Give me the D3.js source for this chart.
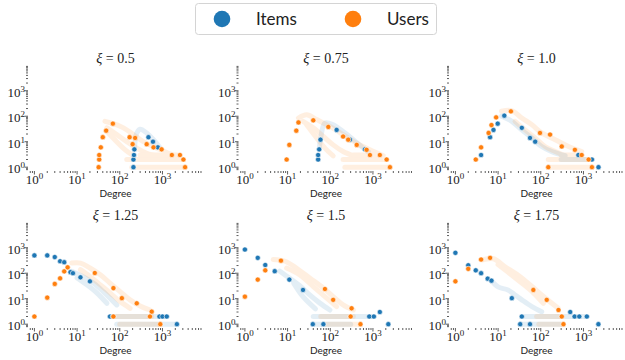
<!DOCTYPE html>
<html>
<head>
<meta charset="utf-8">
<script src="https://cdn.jsdelivr.net/npm/d3@7"></script>
<style>
body { margin: 0; background: #fff; }
</style>
</head>
<body>
<div id="chart"></div>
<script>
// panel titles (xi values)
var xiLabels = ["0.5", "0.75", "1.0", "1.25", "1.5", "1.75"];
var seriesNames = ["Items", "Users"];
var seriesColors = ["#1f77b4", "#ff7f0e"];
var majorTicks = [1, 10, 100, 1000];

// clearly visible [degree, count] points, one list per panel
var itemPoints = [
    [[209,1],[209,2],[215,3],[220,5],[470,15],[600,10],[780,6]],
    [[52,2],[52,3],[55,5],[59,12],[141,29],[288,12],[650,5]],
    [[4,3],[6.5,15],[7.8,29],[9.8,51],[14,105],[36,35],[56,14],[74,10],[760,3],[1580,2],[2250,1]],
    [[1,500],[2,500],[3,430],[4,295],[5,270],[7,110],[8,100],[12,69],[20,48],[59,2],[69,2],[850,2],[1000,2],[1260,2],[2180,1]],
    [[1,850],[2,400],[3,210],[5,120],[11,56],[23,22],[39,1],[69,1],[820,2],[1050,2],[1450,3],[2290,1]],
    [[1,630],[2,205],[3,130],[4,100],[5.7,61],[7,51],[21,10.5],[36,2],[33,1],[56,1],[490,3],[620,2],[800,2],[1200,2],[2240,1]]
];
var userPoints = [
    [[32,1],[33,2],[33,3],[36,6],[40,15],[48,27],[69,51],[170,15],[200,8],[229,14],[427,8],[617,6],[955,5],[1660,3],[2570,3],[3100,2],[3390,1]],
    [[9.5,2],[11,7.5],[16,27],[18,57],[40,69],[90,38],[200,16],[263,12],[417,7.5],[710,4.8],[850,3],[1450,3],[2090,2],[2500,1]],
    [[3,2],[4,6],[6,22],[7,45],[9,90],[20,155],[96,22],[165,19],[310,6.5],[630,4.8],[910,3],[1320,2],[150,1],[1580,1]],
    [[1,2],[2,11],[3,38],[4,63],[5,118],[6,170],[26,102],[71,26],[112,10.5],[250,6.6],[560,3.1],[71,2],[510,2],[890,1]],
    [[1,12],[2,56],[3,130],[7,310],[75,24],[117,9],[316,4.2],[300,2],[510,1]],
    [[1,48],[2,148],[4,345],[6.5,400],[67,22],[138,9],[260,3.6],[310,2],[340,1]]
];

// dense runs of overlapping points (drawn as pale trails), one list per panel
var itemTrails = [
    [[[220,4.8],[251,22],[300,31],[427,22],[617,12],[890,5.6]]],
    [[[55,5],[59,12],[75,54],[117,46],[200,25],[347,12],[590,5.6],[780,4]]],
    [[[12,100],[21,63],[36,29],[62,14],[105,6.5],[182,4.1],[372,2.8]], [[300,2],[1580,2]]],
    [[[7.5,118],[14,71],[24,41],[41,19],[59,10.5],[85,5.7]], [[10,65],[17,35],[29,17],[50,6.6]], [[59,2],[1260,2]], [[85,1],[2180,1]]],
    [[[6.6,120],[11,65],[19,33],[33,14],[57,6.7],[98,3.6]], [[14,40],[23,12],[45,4]], [[40,2],[1050,2]], [[39,1],[300,1]]],
    [[[7,51],[10,29],[17,22],[25,14],[36,9],[62,4.9],[105,3.1]], [[36,2],[1200,2]], [[33,1],[300,1]]]
];
var userTrails = [
    [[[45,63],[71,51],[122,35],[209,19],[357,10],[737,5.6],[1510,3.3],[2570,2.5]],
     [[50,35],[85,19],[146,10],[251,5.6],[427,3.5],[890,2.6]],
     [[54,22],[85,10],[134,4.8],[209,2.8]],
     [[146,2],[2830,2]], [[191,1],[3100,1]], [[300,3],[2180,3]]],
    [[[18,85],[28,115],[48,74],[98,40],[200,19],[417,8.7],[850,4.8],[1740,2.8]],
     [[23,63],[40,35],[69,16],[117,7.5],[200,4.1],[347,2.8]],
     [[28,46],[48,14],[75,5.6],[117,2.8]],
     [[200,2],[2090,2]], [[220,1],[2500,1]], [[347,3],[1450,3]]],
    [[[12,158],[21,166],[36,85],[62,46],[105,22],[218,12],[447,6.5],[910,4.1]],
     [[25,63],[43,29],[74,14],[126,6.5],[218,4.1],[372,2.8]],
     [[150,1],[1580,1]], [[150,2],[1320,2]], [[300,3],[910,3]]],
    [[[7.5,250],[12,250],[20,160],[35,87],[59,41],[102,19],[174,9],[300,5.2],[513,3.6]],
     [[12,138],[20,75],[35,35],[59,17],[102,7.7],[174,4.2]],
     [[71,2],[560,2]], [[100,1],[890,1]]],
    [[[4.6,345],[8.7,295],[16,160],[33,65],[69,26],[117,12],[200,5.7],[347,3.6]],
     [[9.5,160],[19,87],[40,30],[75,12],[141,4.9]],
     [[60,2],[347,2]], [[70,1],[510,1]]],
    [[[4.1,325],[7.8,370],[14,186],[30,81],[62,30],[105,14],[182,6.6],[257,4.2]],
     [[10,219],[19,96],[36,41],[67,17],[115,6.6]],
     [[80,2],[310,2]], [[90,1],[340,1]]]
];

var width = 625, height = 360;
var colLeft = [28, 238.5, 449], rowTop = [66, 223];
var axW = 175, axH = 105;

var svg = d3.select("#chart").append("svg")
    .attr("width", width)
    .attr("height", height);

var x = d3.scaleLog().domain([Math.pow(10, -0.15), Math.pow(10, 3.95)]).range([0, axW]);
var y = d3.scaleLog().domain([Math.pow(10, -0.15), Math.pow(10, 3.97)]).range([axH, 0]);

var trailLine = d3.line()
    .x(function(d) { return x(d[0]); })
    .y(function(d) { return y(d[1]); })
    .curve(d3.curveCatmullRom);

function isMajor(v) {
    return Math.abs(Math.log10(v) - Math.round(Math.log10(v))) < 1e-6;
}

function powLabel(sel, v) {
    sel.append("tspan").text("10");
    sel.append("tspan")
        .attr("dy", -5)
        .attr("font-size", 9)
        .text(Math.round(Math.log10(v)));
}

xiLabels.forEach(function(xi, i) {
    var g = svg.append("g")
        .attr("transform", "translate(" + colLeft[i % 3] + "," + rowTop[Math.floor(i / 3)] + ")");

    // title
    var t = g.append("text")
        .attr("x", axW / 2)
        .attr("y", -3)
        .attr("text-anchor", "middle")
        .attr("font-family", "'Liberation Serif', serif")
        .attr("font-size", 14)
        .attr("fill", "#222");
    t.append("tspan").attr("font-style", "italic").text("ξ");
    t.append("tspan").text(" = " + xi);

    // log ticks (no spines)
    var xt = x.ticks().filter(function(v) { return v >= x.domain()[0] && v <= x.domain()[1]; });
    g.selectAll(".xtick").data(xt).enter().append("line")
        .attr("x1", function(d) { return x(d); })
        .attr("x2", function(d) { return x(d); })
        .attr("y1", axH)
        .attr("y2", function(d) { return axH + (isMajor(d) ? 3.5 : 2); })
        .attr("stroke", "#333")
        .attr("stroke-width", 0.8);

    var yt = y.ticks().filter(function(v) { return v >= y.domain()[0] && v <= y.domain()[1]; });
    g.selectAll(".ytick").data(yt).enter().append("line")
        .attr("y1", function(d) { return y(d); })
        .attr("y2", function(d) { return y(d); })
        .attr("x1", 0)
        .attr("x2", function(d) { return isMajor(d) ? -3.5 : -2; })
        .attr("stroke", "#333")
        .attr("stroke-width", 0.8);

    majorTicks.forEach(function(v) {
        g.append("text")
            .attr("x", x(v))
            .attr("y", axH + 13)
            .attr("text-anchor", "middle")
            .attr("font-family", "'Liberation Serif', serif")
            .attr("font-size", 13)
            .attr("fill", "#222")
            .call(powLabel, v);
        g.append("text")
            .attr("x", -3)
            .attr("y", y(v) + 6)
            .attr("text-anchor", "end")
            .attr("font-family", "'Liberation Serif', serif")
            .attr("font-size", 13)
            .attr("fill", "#222")
            .call(powLabel, v);
    });

    g.append("text")
        .attr("x", axW / 2)
        .attr("y", axH + 26)
        .attr("text-anchor", "middle")
        .attr("font-family", "Lato, sans-serif")
        .attr("font-size", 10)
        .attr("fill", "#222")
        .text("Degree");

    // dense, overlapping runs (white marker edges wash them out)
    [itemTrails[i], userTrails[i]].forEach(function(trails, s) {
        g.append("g")
            .attr("opacity", 0.12)
            .selectAll("path").data(trails).enter().append("path")
            .attr("d", trailLine)
            .attr("fill", "none")
            .attr("stroke", seriesColors[s])
            .attr("stroke-width", 5)
            .attr("stroke-linecap", "round")
            .attr("stroke-linejoin", "round");
    });

    // points
    [itemPoints[i], userPoints[i]].forEach(function(pts, s) {
        g.append("g").selectAll("circle").data(pts).enter().append("circle")
            .attr("cx", function(d) { return x(d[0]); })
            .attr("cy", function(d) { return y(d[1]); })
            .attr("r", 2.6)
            .attr("fill", seriesColors[s])
            .attr("stroke", "#fff")
            .attr("stroke-width", 0.6);
    });
});

// legend
var legend = svg.append("g");
legend.append("rect")
    .attr("x", 195.5).attr("y", 3.5)
    .attr("width", 241).attr("height", 31)
    .attr("rx", 3)
    .attr("fill", "#fff")
    .attr("stroke", "#d4d4d4");
var legendX = [222, 353];
seriesNames.forEach(function(name, s) {
    legend.append("circle")
        .attr("cx", legendX[s]).attr("cy", 19)
        .attr("r", 8.3)
        .attr("fill", seriesColors[s]);
    legend.append("text")
        .attr("x", legendX[s] + 34)
        .attr("y", 25)
        .attr("font-family", "Lato, sans-serif")
        .attr("font-size", 17)
        .attr("fill", "#222")
        .text(name);
});
</script>
</body>
</html>
